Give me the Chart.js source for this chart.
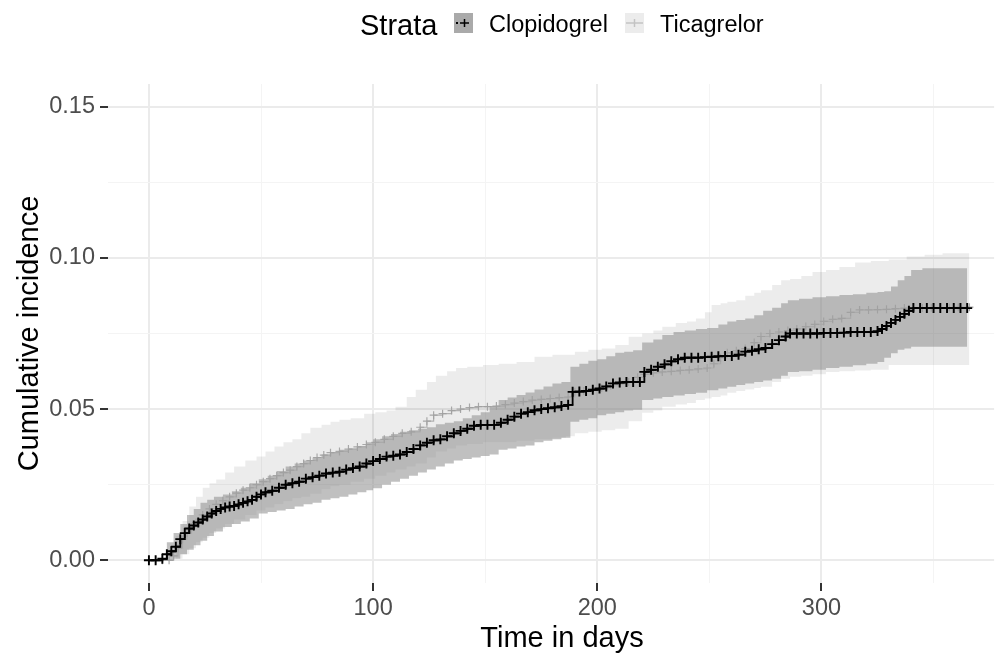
<!DOCTYPE html>
<html>
<head>
<meta charset="utf-8">
<script src="https://cdn.jsdelivr.net/npm/chart.js@4.4.1/dist/chart.umd.min.js"></script>
<style>
  html, body { margin: 0; padding: 0; background: #fff; }
  #wrap { width: 1001px; height: 659px; }
</style>
</head>
<body>
<div id="wrap"><canvas id="chart" width="1001" height="659"></canvas></div>
<script>
// Clopidogrel: 95% band
const clopBandDays = [0, 5, 8, 11, 14, 17, 20, 23, 26, 29, 33, 37, 41, 45, 49, 53, 57, 61, 65, 69, 73, 77, 81, 85, 89, 93, 97, 100, 104, 108, 112, 116, 120, 124, 128, 132, 136, 140, 144, 148, 152, 156, 160, 164, 168, 172, 176, 180, 184, 188, 192, 196, 200, 204, 208, 212, 216, 220, 225, 229, 234, 239, 244, 249, 254, 258, 262, 266, 270, 274, 278, 282, 285, 290, 296, 302, 308, 314, 320, 325, 328, 331, 334, 337, 340, 345, 350, 355, 360, 365];
const clopLower = [0, 0, 0, 0.0005, 0.002, 0.0035, 0.005, 0.0065, 0.008, 0.0095, 0.011, 0.012, 0.0128, 0.0138, 0.0155, 0.016, 0.0165, 0.017, 0.0178, 0.0185, 0.019, 0.020, 0.0205, 0.021, 0.0218, 0.0225, 0.0232, 0.0238, 0.025, 0.026, 0.027, 0.028, 0.029, 0.030, 0.031, 0.032, 0.033, 0.0335, 0.034, 0.0345, 0.035, 0.0366, 0.037, 0.0376, 0.038, 0.039, 0.0395, 0.040, 0.0405, 0.0458, 0.0465, 0.047, 0.048, 0.0485, 0.049, 0.0495, 0.0498, 0.053, 0.0535, 0.054, 0.0545, 0.055, 0.0554, 0.0562, 0.0568, 0.0574, 0.058, 0.0585, 0.059, 0.0595, 0.060, 0.061, 0.0623, 0.0625, 0.063, 0.0636, 0.064, 0.0645, 0.065, 0.0656, 0.067, 0.0685, 0.0696, 0.070, 0.0706, 0.0706, 0.0706, 0.0706, 0.0706, 0.0706];
const clopUpper = [0, 0, 0.006, 0.009, 0.012, 0.015, 0.017, 0.019, 0.020, 0.021, 0.0218, 0.0228, 0.024, 0.0255, 0.0268, 0.028, 0.0295, 0.031, 0.032, 0.033, 0.034, 0.035, 0.0358, 0.0366, 0.037, 0.0378, 0.039, 0.040, 0.041, 0.0418, 0.0425, 0.043, 0.0435, 0.044, 0.045, 0.0455, 0.046, 0.047, 0.048, 0.049, 0.051, 0.053, 0.0538, 0.0547, 0.0555, 0.0565, 0.0575, 0.0585, 0.059, 0.064, 0.065, 0.066, 0.0665, 0.0675, 0.0686, 0.069, 0.0695, 0.072, 0.073, 0.0745, 0.0755, 0.076, 0.0765, 0.0768, 0.078, 0.079, 0.0795, 0.080, 0.081, 0.0825, 0.0835, 0.085, 0.086, 0.0865, 0.087, 0.0873, 0.0877, 0.088, 0.0885, 0.0887, 0.089, 0.0905, 0.0926, 0.094, 0.096, 0.0966, 0.0966, 0.0966, 0.0966, 0.0966];

// Clopidogrel: step estimate with censor marks
const clopDays = [0, 3, 6, 8, 10, 12, 14, 16, 18, 20, 22, 24, 26, 28, 30, 32, 34, 36, 38, 40, 42, 44, 46, 48, 50, 52, 55, 58, 61, 64, 67, 70, 73, 76, 79, 82, 85, 88, 91, 94, 97, 100, 103, 106, 109, 112, 115, 118, 121, 124, 127, 130, 133, 136, 139, 142, 145, 148, 151, 154, 157, 160, 163, 166, 169, 172, 175, 178, 181, 184, 187, 189, 192, 195, 198, 201, 204, 207, 210, 213, 216, 219, 221, 224, 227, 230, 233, 236, 239, 242, 245, 248, 251, 254, 257, 260, 263, 266, 269, 272, 275, 278, 281, 284, 286, 289, 292, 295, 298, 301, 304, 307, 310, 313, 316, 319, 322, 325, 327, 329, 331, 333, 335, 337, 339, 341, 344, 347, 350, 353, 356, 359, 362, 365];
const clopEst = [0, 0, 0.0005, 0.002, 0.003, 0.0045, 0.007, 0.009, 0.0105, 0.0115, 0.0125, 0.0135, 0.0145, 0.0155, 0.0163, 0.017, 0.0175, 0.0178, 0.018, 0.0185, 0.019, 0.0195, 0.020, 0.021, 0.0218, 0.0225, 0.023, 0.024, 0.025, 0.0255, 0.026, 0.027, 0.0275, 0.028, 0.0287, 0.029, 0.0293, 0.030, 0.0305, 0.031, 0.032, 0.0328, 0.0335, 0.0343, 0.0346, 0.035, 0.0358, 0.0368, 0.038, 0.0389, 0.0397, 0.040, 0.041, 0.042, 0.0428, 0.0435, 0.0445, 0.0448, 0.0448, 0.0448, 0.0455, 0.0465, 0.0475, 0.0485, 0.049, 0.0496, 0.050, 0.0503, 0.0506, 0.051, 0.0514, 0.0557, 0.0558, 0.056, 0.0564, 0.0568, 0.0575, 0.0585, 0.0588, 0.059, 0.059, 0.059, 0.0623, 0.063, 0.064, 0.0648, 0.0658, 0.0665, 0.067, 0.067, 0.067, 0.0672, 0.0673, 0.0675, 0.0676, 0.0676, 0.068, 0.069, 0.0693, 0.0698, 0.0702, 0.0715, 0.0728, 0.074, 0.075, 0.075, 0.075, 0.075, 0.075, 0.0752, 0.0752, 0.0752, 0.0753, 0.0755, 0.0755, 0.0755, 0.0755, 0.0758, 0.0765, 0.0775, 0.0785, 0.0795, 0.0805, 0.0815, 0.0825, 0.0834, 0.0834, 0.0834, 0.0834, 0.0834, 0.0834, 0.0834, 0.0834, 0.0834];

// Ticagrelor: 95% band
const ticaBandDays = [0, 10, 12, 15, 18, 21, 24, 27, 30, 34, 38, 43, 48, 52, 56, 60, 64, 68, 72, 77, 81, 85, 90, 96, 101, 106, 110, 115, 119, 124, 128, 133, 137, 142, 149, 156, 164, 172, 180, 186, 190, 196, 202, 208, 214, 220, 225, 229, 235, 240, 244, 248, 251, 255, 258, 262, 266, 270, 273, 278, 282, 286, 291, 296, 302, 308, 315, 322, 330, 338, 346, 354, 360, 366];
const ticaLower = [0, 0, 0.0005, 0.002, 0.004, 0.006, 0.0075, 0.009, 0.0105, 0.012, 0.0135, 0.015, 0.0165, 0.0175, 0.0185, 0.0195, 0.0205, 0.021, 0.022, 0.0235, 0.0245, 0.025, 0.026, 0.027, 0.028, 0.029, 0.030, 0.031, 0.032, 0.034, 0.036, 0.037, 0.038, 0.0385, 0.039, 0.039, 0.0395, 0.040, 0.0405, 0.041, 0.042, 0.0425, 0.043, 0.0435, 0.046, 0.0488, 0.0495, 0.0508, 0.0515, 0.052, 0.053, 0.0535, 0.054, 0.0545, 0.0554, 0.056, 0.0565, 0.057, 0.0574, 0.059, 0.060, 0.0607, 0.061, 0.0615, 0.0623, 0.0625, 0.0628, 0.063, 0.0646, 0.0646, 0.0646, 0.0646, 0.0646, 0.0646];
const ticaUpper = [0, 0, 0.008, 0.013, 0.0178, 0.021, 0.024, 0.0255, 0.0267, 0.029, 0.031, 0.033, 0.0343, 0.036, 0.0376, 0.039, 0.040, 0.042, 0.0438, 0.0448, 0.0458, 0.0465, 0.047, 0.0485, 0.049, 0.0495, 0.0508, 0.054, 0.0564, 0.059, 0.061, 0.0625, 0.0636, 0.064, 0.0646, 0.065, 0.0656, 0.0673, 0.068, 0.068, 0.069, 0.0696, 0.070, 0.0712, 0.0739, 0.075, 0.076, 0.0772, 0.0785, 0.079, 0.080, 0.082, 0.0844, 0.085, 0.0855, 0.086, 0.0875, 0.0885, 0.0893, 0.091, 0.0926, 0.093, 0.094, 0.0953, 0.096, 0.097, 0.0985, 0.099, 0.0995, 0.1005, 0.101, 0.1015, 0.1015, 0.1015];

// Ticagrelor: step estimate with censor marks
const ticaDays = [0, 3, 6, 9, 11, 13, 15, 17, 19, 21, 24, 27, 30, 33, 36, 39, 42, 45, 48, 51, 54, 57, 60, 63, 66, 69, 72, 75, 78, 81, 85, 89, 93, 97, 101, 105, 109, 113, 117, 121, 124, 127, 131, 135, 139, 143, 147, 151, 155, 159, 163, 167, 171, 175, 179, 183, 187, 190, 194, 198, 202, 206, 210, 214, 218, 221, 225, 229, 233, 237, 241, 245, 249, 252, 255, 258, 262, 266, 270, 273, 277, 281, 285, 289, 293, 297, 301, 305, 309, 313, 317, 321, 325, 329, 333, 337, 341, 345, 349, 353, 357, 361, 366];
const ticaEst = [0, 0, 0, 0, 0.0015, 0.004, 0.007, 0.009, 0.011, 0.0125, 0.015, 0.017, 0.0185, 0.0197, 0.021, 0.0222, 0.0232, 0.024, 0.025, 0.026, 0.027, 0.028, 0.029, 0.0298, 0.031, 0.032, 0.033, 0.034, 0.0348, 0.0356, 0.036, 0.0368, 0.0375, 0.0383, 0.039, 0.040, 0.041, 0.042, 0.0425, 0.044, 0.046, 0.048, 0.0485, 0.0495, 0.050, 0.0505, 0.0508, 0.0508, 0.051, 0.0515, 0.052, 0.0525, 0.053, 0.0532, 0.0535, 0.0538, 0.054, 0.0557, 0.056, 0.0565, 0.057, 0.0577, 0.0583, 0.059, 0.0605, 0.0615, 0.062, 0.0623, 0.0625, 0.0628, 0.063, 0.0633, 0.0636, 0.065, 0.067, 0.0686, 0.0693, 0.070, 0.072, 0.074, 0.075, 0.0755, 0.076, 0.0765, 0.0773, 0.078, 0.079, 0.0797, 0.080, 0.082, 0.0828, 0.0828, 0.0829, 0.083, 0.0832, 0.0834, 0.0834, 0.0834, 0.0835, 0.0836, 0.0836, 0.0837, 0.0837];

const xTicks = [0, 100, 200, 300];
const xTickLabels = ['0', '100', '200', '300'];
const xMinorTicks = [50, 150, 250, 350];
const yTicks = [0, 0.05, 0.10, 0.15];
const yTickLabels = ['0.00', '0.05', '0.10', '0.15'];
const yMinorTicks = [0.025, 0.075, 0.125];

const legendTitle = 'Strata';
const strataNames = ['Clopidogrel', 'Ticagrelor'];
const xTitle = 'Time in days';
const yTitle = 'Cumulative incidence';

const FONT = '"Liberation Sans", Arial, Helvetica, sans-serif';

function pts(days, vals) {
    return days.map((d, i) => ({ x: d, y: vals[i] }));
}

function band(data, fillColor, fillTo, order) {
    return {
        data: data,
        stepped: 'before',
        borderWidth: 0,
        borderColor: 'rgba(0,0,0,0)',
        backgroundColor: fillColor,
        pointRadius: 0,
        fill: fillTo,
        order: order
    };
}

function isMajor(list, v) {
    return list.some(t => Math.abs(t - v) < 1e-9);
}

function gridFor(major) {
    return {
        drawTicks: true,
        tickLength: 8,
        color: ctx => (ctx.tick && isMajor(major, ctx.tick.value)) ? '#ebebeb' : '#f4f4f4',
        lineWidth: ctx => (ctx.tick && isMajor(major, ctx.tick.value)) ? 2 : 1,
        tickColor: ctx => (ctx.tick && isMajor(major, ctx.tick.value)) ? '#333333' : 'rgba(0,0,0,0)',
        tickWidth: 2
    };
}

// axis titles and the legend, placed like the ggplot original
const textPlugin = {
    id: 'texts',
    afterDraw(chart) {
        const ctx = chart.ctx;
        const a = chart.chartArea;
        ctx.save();
        ctx.fillStyle = '#000';
        ctx.textBaseline = 'alphabetic';

        ctx.font = '29px ' + FONT;
        ctx.textAlign = 'center';
        ctx.fillText(xTitle, 562, 647);

        ctx.save();
        ctx.translate(38, (a.top + a.bottom) / 2);
        ctx.rotate(-Math.PI / 2);
        ctx.fillText(yTitle, 0, 0);
        ctx.restore();

        // legend
        ctx.textAlign = 'left';
        ctx.fillText(legendTitle, 360, 35);

        ctx.fillStyle = 'rgb(170,170,170)';
        ctx.fillRect(454, 13, 19, 20);
        ctx.fillStyle = 'rgb(236,236,236)';
        ctx.fillRect(625, 13, 19, 20);

        ctx.fillStyle = '#000';
        ctx.fillRect(456, 22, 2, 2);
        ctx.strokeStyle = '#000';
        ctx.lineWidth = 1.5;
        ctx.beginPath();
        ctx.moveTo(460, 23); ctx.lineTo(469, 23);
        ctx.moveTo(464.5, 19); ctx.lineTo(464.5, 27);
        ctx.stroke();

        ctx.strokeStyle = 'rgb(195,195,195)';
        ctx.beginPath();
        ctx.moveTo(626, 23); ctx.lineTo(643, 23);
        ctx.moveTo(634.5, 19); ctx.lineTo(634.5, 27);
        ctx.stroke();

        ctx.fillStyle = '#000';
        ctx.font = '23.5px ' + FONT;
        ctx.fillText(strataNames[0], 489, 32);
        ctx.fillText(strataNames[1], 660, 32);
        ctx.restore();
    }
};

const ctx = document.getElementById('chart').getContext('2d');
new Chart(ctx, {
    type: 'line',
    data: {
        datasets: [
            band(pts(ticaBandDays, ticaLower), 'rgba(0,0,0,0)', false, 6),
            band(pts(ticaBandDays, ticaUpper), 'rgba(0,0,0,0.075)', 0, 6),
            band(pts(clopBandDays, clopLower), 'rgba(0,0,0,0)', false, 5),
            band(pts(clopBandDays, clopUpper), 'rgba(140,140,140,0.55)', 2, 5),
            {
                label: strataNames[1],
                data: pts(ticaDays, ticaEst),
                stepped: 'before',
                borderColor: 'rgba(170,170,170,0.9)',
                borderWidth: 1.2,
                fill: false,
                pointStyle: 'cross',
                pointRadius: 4,
                pointBorderWidth: 1.2,
                pointBorderColor: 'rgba(160,160,160,0.9)',
                order: 2
            },
            {
                label: strataNames[0],
                data: pts(clopDays, clopEst),
                stepped: 'before',
                borderColor: '#000',
                borderWidth: 1.8,
                fill: false,
                pointStyle: 'cross',
                pointRadius: 5,
                pointBorderWidth: 1.9,
                pointBorderColor: '#000',
                order: 1
            }
        ]
    },
    options: {
        responsive: false,
        animation: false,
        events: [],
        layout: { padding: { top: 84, left: 0, right: 0, bottom: 0 } },
        plugins: {
            legend: { display: false },
            tooltip: { enabled: false },
            filler: { drawTime: 'beforeDatasetsDraw' }
        },
        scales: {
            x: {
                type: 'linear',
                min: -18.25,
                max: 377,
                border: { display: false },
                grid: gridFor(xTicks),
                afterBuildTicks: s => {
                    s.ticks = xTicks.concat(xMinorTicks).sort((p, q) => p - q).map(v => ({ value: v }));
                },
                afterFit: s => { s.height = 76; },
                ticks: {
                    autoSkip: false,
                    maxRotation: 0,
                    padding: 3,
                    color: '#4d4d4d',
                    font: { family: FONT, size: 23.5 },
                    callback: v => {
                        const i = xTicks.findIndex(t => Math.abs(t - v) < 1e-9);
                        return i >= 0 ? xTickLabels[i] : '';
                    }
                }
            },
            y: {
                type: 'linear',
                min: -0.0075,
                max: 0.1575,
                border: { display: false },
                grid: gridFor(yTicks),
                afterBuildTicks: s => {
                    s.ticks = yTicks.concat(yMinorTicks).sort((p, q) => p - q).map(v => ({ value: v }));
                },
                afterFit: s => { s.width = 108; },
                ticks: {
                    autoSkip: false,
                    padding: 5,
                    color: '#4d4d4d',
                    font: { family: FONT, size: 23.5 },
                    callback: v => {
                        const i = yTicks.findIndex(t => Math.abs(t - v) < 1e-9);
                        return i >= 0 ? yTickLabels[i] : '';
                    }
                }
            }
        }
    },
    plugins: [textPlugin]
});
</script>
</body>
</html>
